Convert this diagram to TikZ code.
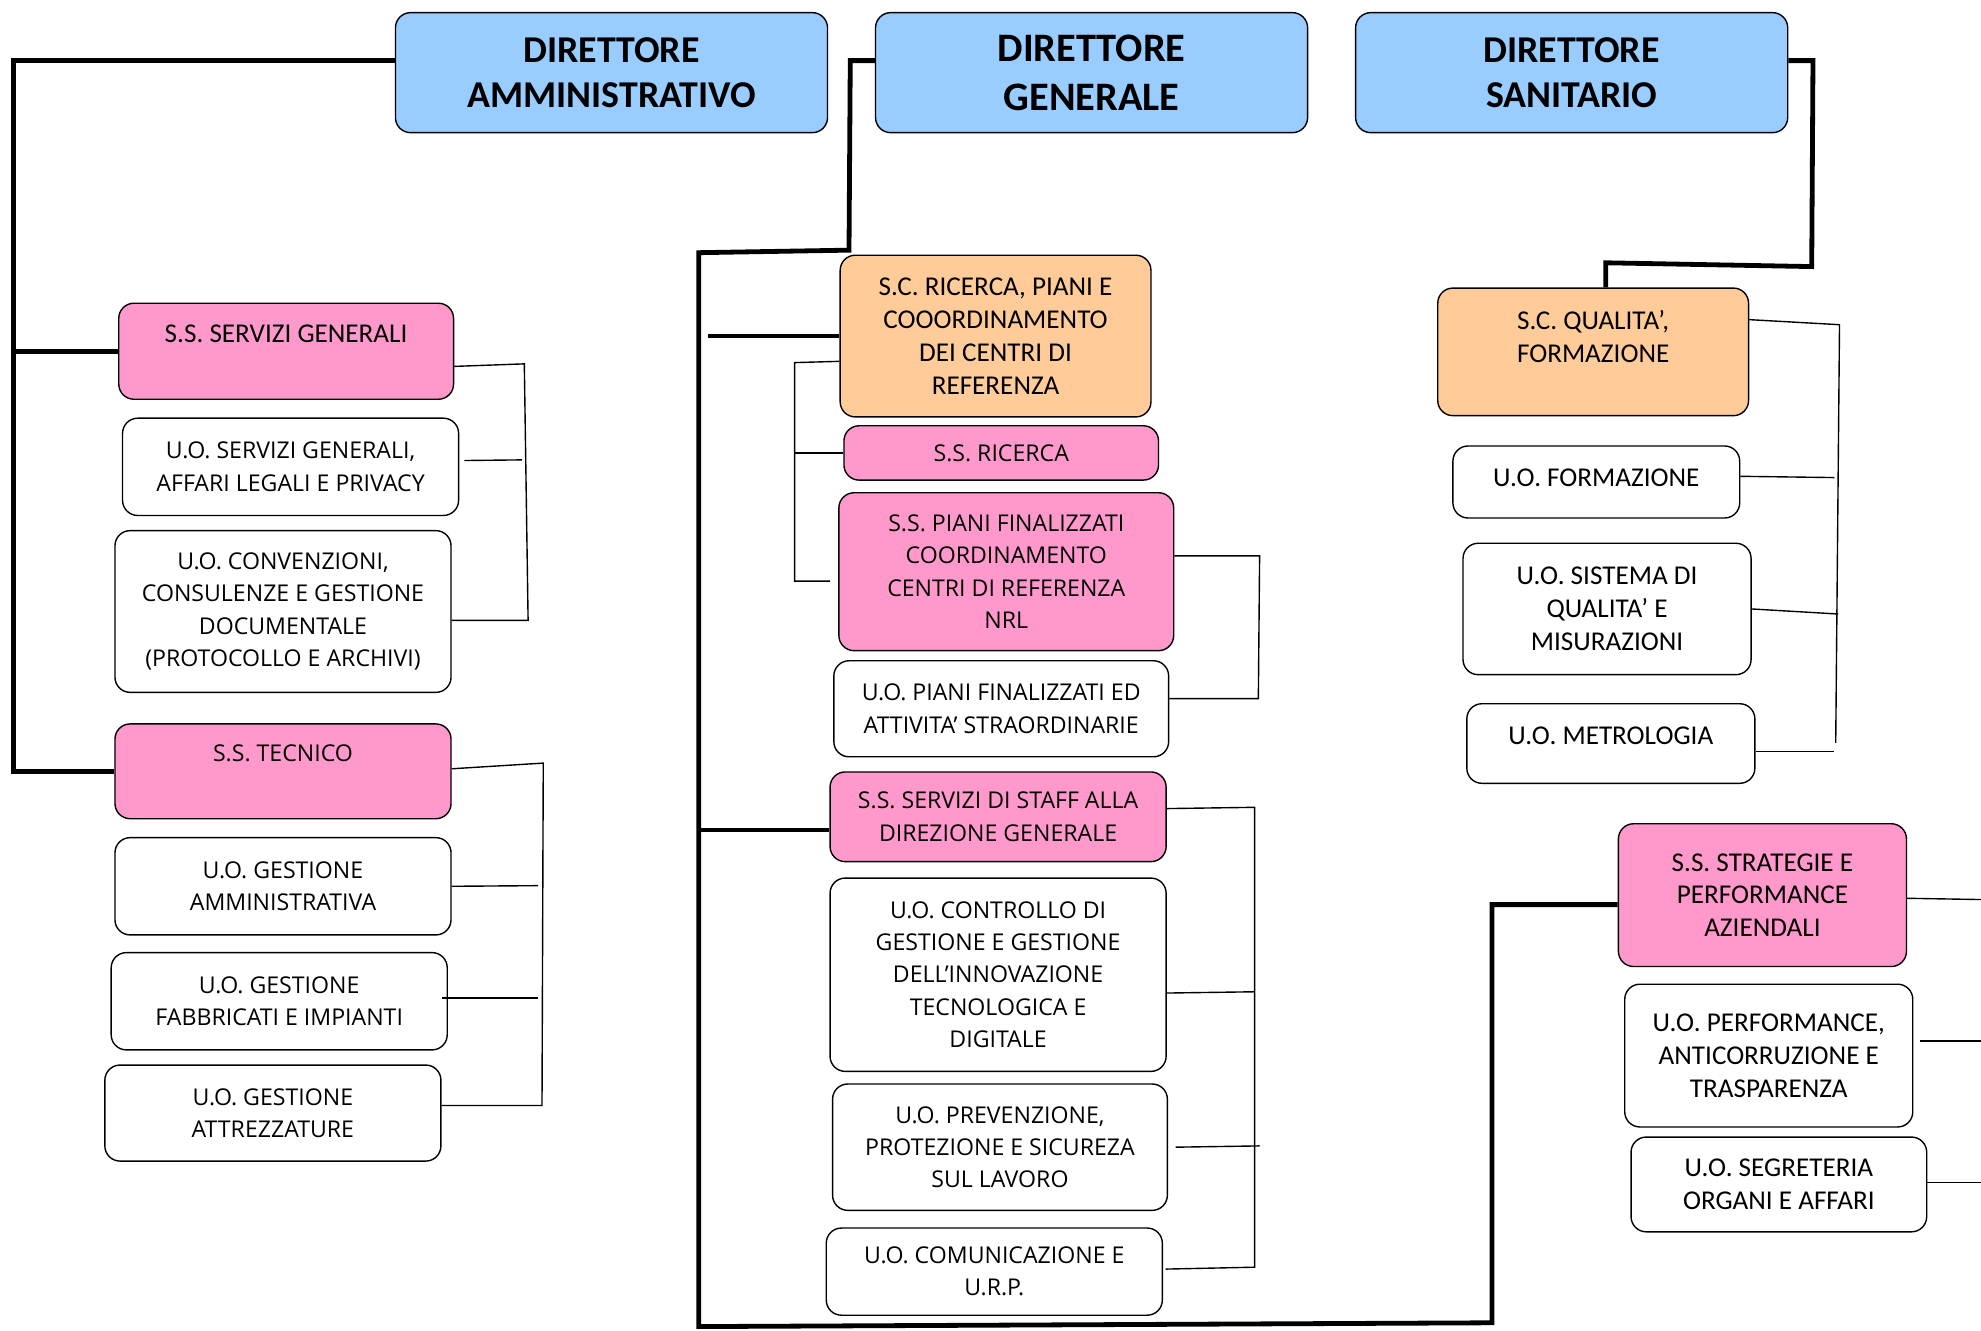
\documentclass[tikz,border=0pt]{standalone}
\usepackage{fontspec}
\setmainfont{Carlito}
\newfontfamily\wide{Open Sans}
\usepackage{tikz}
\usetikzlibrary{positioning}
\definecolor{dirblue}{HTML}{99CCFF}
\definecolor{sspink}{HTML}{FF99CC}
\definecolor{scorange}{HTML}{FFCC99}

\begin{document}
\begin{tikzpicture}[x=1pt,y=-1pt,
    box/.style={draw, rounded corners=12, line width=1.1pt, align=center, inner sep=1pt},
    dir/.style={box, fill=dirblue, minimum width=342, minimum height=95, font=\bfseries\fontsize{30}{36}\selectfont},
    ss/.style={box, fill=sspink},
    sc/.style={box, fill=scorange},
    uo/.style={box, fill=white},
    ow/.style={font=\wide\fontsize{18.3}{25.5}\selectfont},
    cf/.style={font=\fontsize{21.5}{26}\selectfont},
    trunk/.style={line width=3.8pt, line join=miter},
    branch/.style={line width=1.1pt}]

  \useasboundingbox (0,0) rectangle (1568,1053);

  \node[dir] (da) at (484,57.5) {DIRETTORE\\AMMINISTRATIVO};
  \node[dir, font=\bfseries\fontsize{32}{39}\selectfont] (dg) at (864,57.5) {DIRETTORE\\GENERALE};
  \node[dir] (ds) at (1244,57.5) {DIRETTORE\\SANITARIO};

  \node[ss,cf,minimum width=265,minimum height=76] (ssgen) at (226.5,278) {S.S. SERVIZI GENERALI\\[-6pt] \strut};
  \node[uo,ow,minimum width=266,minimum height=77] (uosg) at (230,369.5) {U.O. SERVIZI GENERALI,\\AFFARI LEGALI E PRIVACY};
  \node[uo,ow,minimum width=266,minimum height=128] (uoconv) at (224,484) {U.O. CONVENZIONI,\\CONSULENZE E GESTIONE\\DOCUMENTALE\\(PROTOCOLLO E ARCHIVI)};
  \node[ss,ow,minimum width=266,minimum height=75] (sstec) at (224,610.5) {S.S. TECNICO\\[-4pt] \strut};
  \node[uo,ow,minimum width=266,minimum height=77] (uogamm) at (224,701.5) {U.O. GESTIONE\\AMMINISTRATIVA};
  \node[uo,ow,minimum width=266,minimum height=77] (uogfab) at (221,792.5) {U.O. GESTIONE\\FABBRICATI E IMPIANTI};
  \node[uo,ow,minimum width=266,minimum height=76] (uogatt) at (216,881) {U.O. GESTIONE\\ATTREZZATURE};

  \node[sc,cf,minimum width=246,minimum height=128] (scric) at (788,266) {S.C. RICERCA, PIANI E\\COOORDINAMENTO\\DEI CENTRI DI\\REFERENZA};
  \node[ss,ow,minimum width=249,minimum height=43] (ssric) at (792.5,358.5) {S.S. RICERCA};
  \node[ss,ow,minimum width=265,minimum height=125] (sspiani) at (796.5,452.5) {S.S. PIANI FINALIZZATI\\COORDINAMENTO\\CENTRI DI REFERENZA\\NRL};
  \node[uo,ow,minimum width=265,minimum height=76] (uopiani) at (792.5,561) {U.O. PIANI FINALIZZATI ED\\ATTIVITA’ STRAORDINARIE};
  \node[ss,ow,minimum width=266,minimum height=71] (ssstaff) at (790,646.5) {S.S. SERVIZI DI STAFF ALLA\\DIREZIONE GENERALE};
  \node[uo,ow,minimum width=266,minimum height=153] (uocontr) at (790,771.5) {U.O. CONTROLLO DI\\GESTIONE E GESTIONE\\DELL’INNOVAZIONE\\TECNOLOGICA E\\DIGITALE};
  \node[uo,ow,minimum width=265,minimum height=100] (uoprev) at (791.5,908) {U.O. PREVENZIONE,\\PROTEZIONE E SICUREZA\\SUL LAVORO};
  \node[uo,ow,minimum width=266,minimum height=69] (uocom) at (787,1006.5) {U.O. COMUNICAZIONE E\\U.R.P.};

  \node[sc,cf,minimum width=246,minimum height=101] (scqual) at (1261,278.5) {S.C. QUALITA’,\\FORMAZIONE\\[-10pt] \strut};
  \node[uo,cf,minimum width=227,minimum height=57,text depth=7pt] (uoform) at (1263.5,381.5) {U.O. FORMAZIONE};
  \node[uo,cf,minimum width=228,minimum height=104] (uosist) at (1272,482) {U.O. SISTEMA DI\\QUALITA’ E\\MISURAZIONI};
  \node[uo,cf,minimum width=228,minimum height=63,text depth=13pt] (uometr) at (1275,588.5) {U.O. METROLOGIA};
  \node[ss,cf,minimum width=228,minimum height=113] (ssstrat) at (1395,708.5) {S.S. STRATEGIE E\\PERFORMANCE\\AZIENDALI};
  \node[uo,cf,minimum width=228,minimum height=113] (uoperf) at (1400,835.5) {U.O. PERFORMANCE,\\ANTICORRUZIONE E\\TRASPARENZA};
  \node[uo,cf,minimum width=234,minimum height=75] (uosegr) at (1408,937.5) {U.O. SEGRETERIA\\ORGANI E AFFARI};

  \coordinate (la) at (11,48);
  \coordinate (ga) at (673,48);
  \coordinate (gb) at (672,198);
  \coordinate (gc) at (553,200);
  \coordinate (gd) at (553,1050);
  \coordinate (ge) at (1181,1047);
  \coordinate (sa) at (1435,48);
  \coordinate (sb) at (1434,211);
  \coordinate (sc) at (1271,208);

  \draw[trunk] ([yshift=9.5]da.west) -- (la) -- (la |- sstec.west) -- (sstec.west);
  \draw[trunk] (la |- ssgen.west) -- (ssgen.west);
  \draw[trunk] ([yshift=9.5]dg.west) -- (ga) -- (gb) -- (gc) -- (gd) -- (ge) -- (ge |- 0,716) -- ([yshift=-7.5]ssstrat.west);
  \draw[trunk] (560,266) -- (scric.west);
  \draw[trunk] (gc |- 0,657) -- ([yshift=-10.5]ssstaff.west);
  \draw[trunk] ([yshift=9.5]ds.east) -- (sa) -- (sb) -- (sc) -- ([xshift=10]scqual.north);

  \coordinate (b1t) at (415,288);
  \coordinate (b1b) at (418,491);
  \draw[branch] ([yshift=-12]ssgen.east) -- (b1t) -- (b1b) -- ([yshift=-7]uoconv.east);
  \draw[branch] ([xshift=4,yshift=5]uosg.east) -- (413,364);

  \coordinate (b2t) at (430,604);
  \coordinate (b2b) at (429,875);
  \draw[branch] ([yshift=2]sstec.east) -- (b2t) -- (b2b) -- ([yshift=6]uogatt.east);
  \draw[branch] (uogamm.east) -- (426,701);
  \draw[branch] ([xshift=-5,yshift=2.5]uogfab.east) -- (426,790);

  \coordinate (b3t) at (629,287);
  \coordinate (b3b) at (629,460);
  \draw[branch] ([yshift=-20]scric.west) -- (b3t) -- (b3b) -- (657,460);
  \draw[branch] (b3t |- ssric.west) -- (ssric.west);

  \coordinate (b4t) at (997,440);
  \coordinate (b4b) at (996,553);
  \draw[branch] ([yshift=12.5]sspiani.east) -- (b4t) -- (b4b) -- ([yshift=8]uopiani.east);

  \coordinate (b5t) at (993,639);
  \coordinate (b5b) at (993,1003);
  \draw[branch] ([yshift=6.5]ssstaff.east) -- (b5t) -- (b5b) -- ([xshift=2,yshift=2]uocom.east);
  \draw[branch] ([yshift=-14.5]uocontr.east) -- (b5t |- 0,785);
  \draw[branch] ([xshift=6]uoprev.east) -- (997,907);

  \coordinate (b6t) at (1456,257);
  \coordinate (b6b) at (1453,588);
  \draw[branch] ([yshift=25.5]scqual.east) -- (b6t) -- (b6b);
  \draw[branch] ([yshift=4.5]uoform.east) -- (1452,378);
  \draw[branch] (uosist.east) -- (1455,486);
  \draw[branch] ([yshift=-6.5]uometr.east) -- (1452,595);

  \coordinate (b7a) at (1568,712);
  \coordinate (b7b) at (1568,824);
  \coordinate (b7c) at (1568,936);
  \draw[branch] ([yshift=-2.5]ssstrat.east) -- (b7a);
  \draw[branch] ([xshift=5,yshift=11.5]uoperf.east) -- (b7b);
  \draw[branch] ([yshift=1.5]uosegr.east) -- (b7c);
\end{tikzpicture}
\end{document}
